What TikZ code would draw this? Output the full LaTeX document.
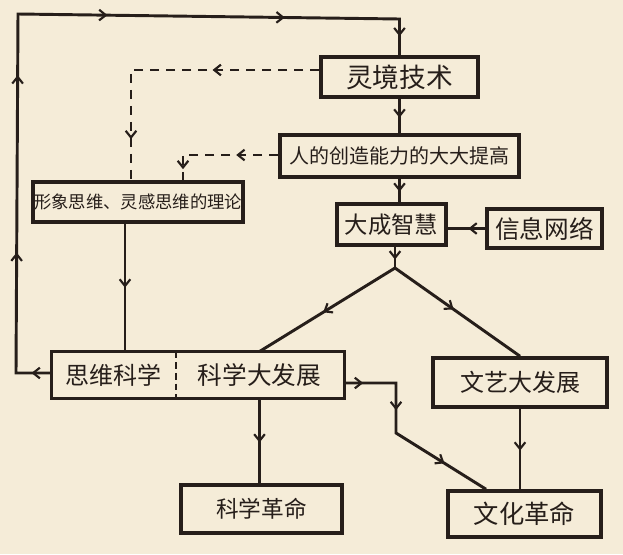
\documentclass[tikz,border=0pt]{standalone}
\usepackage{fontspec}
\newfontfamily\cjk{Noto Sans CJK SC}
\usetikzlibrary{arrows.meta,decorations.markings}
\definecolor{paper}{RGB}{245,236,216}
\definecolor{ink}{RGB}{38,30,26}

\tikzset{every picture/.style={line width=0.75pt}}
\tikzset{
  box/.style={draw=ink, line width=2.7pt, inner sep=0pt, text=ink},
  plain/.style={inner sep=0pt, text=ink},
  fs/.style={font=\cjk\fontsize{#1}{#1}\selectfont},
  link/.style={draw=ink, line width=2.2pt},
  dlink/.style={draw=ink, line width=1.8pt, dash pattern=on 7pt off 5pt},
  arr at/.style={postaction={decorate, decoration={markings,
      mark=at position #1 with {\arrow[ink]{Straight Barb[length=5pt,width=8pt,line width=1.6pt]}}}}},
}

\begin{document}
\begin{tikzpicture}[x=0.75pt,y=0.75pt,yscale=-1,xscale=1]
\fill [paper] (0,0) rectangle (623,554);
\useasboundingbox (0,0) rectangle (623,554);

% Text Node
\node [box, fs=20, minimum width=117.75pt, minimum height=30pt] (ljjs) at (399.5,77) {灵境技术};
% Text Node
\node [box, fs=15, minimum width=179.25pt, minimum height=31.5pt] (rdcz) at (399.5,156) {人的创造能力的大大提高};
% Text Node
\node [box, fs=17.5, minimum width=81.75pt, minimum height=30.75pt] (dczh) at (391.5,224.5) {大成智慧};
% Text Node
\node [box, fs=18.5, minimum width=86.25pt, minimum height=29.25pt] (xxwl) at (544.5,228.5) {信息网络};
% Text Node
\node [box, fs=13, minimum width=157.5pt, minimum height=30pt] (xxsw) at (138,202) {形象思维、灵感思维的理论};
% Text Node
\node [plain, fs=18, minimum width=92.25pt, minimum height=34.5pt] (sw) at (113.5,375) {思维科学};
\node [plain, fs=18.5, minimum width=126.75pt, minimum height=34.5pt] (kf) at (259.5,375) {科学大发展};
\draw [box] (sw.north west) rectangle (kf.south east);
\draw [draw=ink, line width=1.5pt, dash pattern=on 5pt off 3pt] (sw.north east) -- (sw.south east);
% Text Node
\node [box, fs=18, minimum width=130.5pt, minimum height=36.75pt] (wyfz) at (520,382.5) {文艺大发展};
% Text Node
\node [box, fs=17, minimum width=120.75pt, minimum height=36pt] (kxgm) at (261.5,509) {科学革命};
% Text Node
\node [box, fs=19, minimum width=114.75pt, minimum height=34.5pt] (whgm) at (524.5,514) {文化革命};

% Connection
\coordinate (c1) at (16,373);
\coordinate (c2) at (18,14);
\coordinate (c3) at (399.5,19);
\draw [link, arr at=15pt, arr at=117pt, arr at=250pt, arr at=363pt, arr at=496pt, arr at=595pt]
  (sw.west |- c1) -- (c1) -- (c2) -- (c3) -- (ljjs.north);
% Connection
\draw [link, arr at=0.55] (ljjs) -- (rdcz);
% Connection
\draw [link, arr at=0.55] (rdcz.south) -- (rdcz.south |- dczh.north);
% Connection
\draw [link, arr at=0.45] (xxwl.west) -- (xxwl.west -| dczh.east);
% Connection
\coordinate (ap) at (395,268);
\draw [link, arr at=0.6] (dczh.south -| ap) -- (ap);
\draw [link, arr at=0.53] (ap) -- (kf.north);
\draw [link, arr at=0.47] (ap) -- (wyfz.north);
% Connection
\coordinate (d1) at (131,70);
\draw [dlink, arr at=80pt, arr at=193pt] (ljjs.west |- d1) -- (d1) -- (d1 |- xxsw.north);
% Connection
\coordinate (d2) at (183,155);
\draw [dlink, arr at=31.5pt, arr at=82pt] (rdcz.west |- d2) -- (d2) -- (d2 |- xxsw.north);
% Connection
\coordinate (t1) at (125,0);
\draw [link, arr at=0.5] (xxsw.south -| t1) -- (sw.north -| t1);
% Connection
\draw [link, arr at=0.52] (kf.south) -- (kf.south |- kxgm.north);
% Connection
\coordinate (e1) at (396,383);
\coordinate (e2) at (396,433);
\coordinate (e3) at (486,0);
\draw [link, arr at=14pt, arr at=59pt, arr at=119pt] (kf.east |- e1) -- (e1) -- (e2) -- (e3 |- whgm.north);
% Connection
\draw [link, arr at=0.52] (wyfz.south) -- (wyfz.south |- whgm.north);

\end{tikzpicture}
\end{document}
